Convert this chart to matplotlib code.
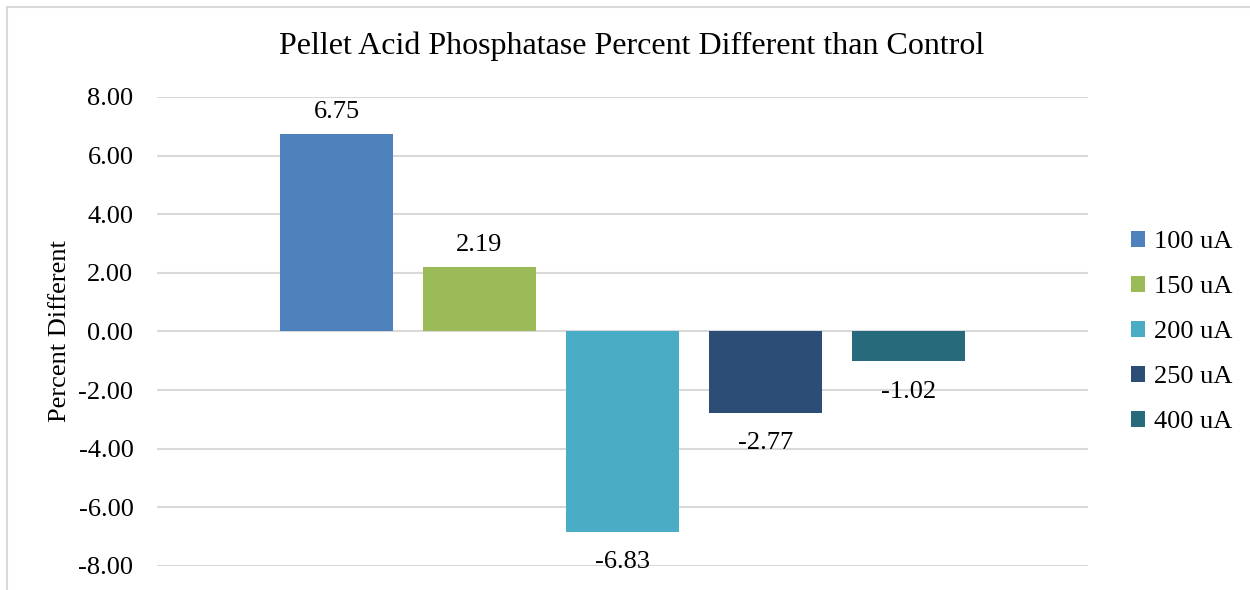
import matplotlib.pyplot as plt
from matplotlib.lines import Line2D
from matplotlib.patches import Patch

plt.rcParams['font.family'] = ['Liberation Serif', 'DejaVu Serif']

series = ['100 uA', '150 uA', '200 uA', '250 uA', '400 uA']
values = [6.75, 2.19, -6.83, -2.77, -1.02]
colors = ['#4F81BD', '#9BBB59', '#4BACC6', '#2C4D75', '#276A7C']
yticks = [-8, -6, -4, -2, 0, 2, 4, 6, 8]

fig = plt.figure(figsize=(12.5, 5.9), dpi=100)
ax = fig.add_axes([0.1256, 0.0407, 0.7448, 0.7949])

# one cluster, bars spaced evenly around the centre
pos = [i - (len(series) - 1) / 2 for i in range(len(series))]
bars = ax.bar(pos, values, width=0.79, color=colors, zorder=3)

for b, v in zip(bars, values):
    x = b.get_x() + b.get_width() / 2
    if v >= 0:
        ax.annotate(f'{v:.2f}', (x, v), xytext=(0, 8), textcoords='offset points',
                    ha='center', va='bottom', fontsize=19)
    else:
        ax.annotate(f'{v:.2f}', (x, v), xytext=(0, -14), textcoords='offset points',
                    ha='center', va='top', fontsize=19)

ax.set_xlim(-3.255, 3.255)
ax.set_ylim(-8, 8)
ax.set_yticks(yticks)
ax.set_yticklabels([f'{t:.2f}' for t in yticks], fontsize=19)
ax.set_xticks([])
ax.tick_params(axis='y', length=0, pad=17)
ax.grid(axis='y', color='#D9D9D9', linewidth=1.5, zorder=0)
for s in ax.spines.values():
    s.set_visible(False)

ax.set_ylabel('Percent Different', fontsize=19, labelpad=5)
fig.text(0.5056, 0.922, 'Pellet Acid Phosphatase Percent Different than Control',
         ha='center', va='center', fontsize=23)

handles = [Patch(facecolor=c, label=s) for c, s in zip(colors, series)]
fig.legend(handles=handles, loc='center left', bbox_to_anchor=(0.896, 0.437),
           frameon=False, fontsize=19, handlelength=0.55, handleheight=0.55,
           handletextpad=0.35, labelspacing=0.86, borderaxespad=0)

# light frame round the chart (left and top edges)
frame = dict(color='#D9D9D9', linewidth=1.5, transform=fig.transFigure)
fig.add_artist(Line2D([0.0056, 0.0056], [0, 0.988], **frame))
fig.add_artist(Line2D([0.0056, 1.0], [0.988, 0.988], **frame))

fig.savefig('out.png', dpi=100)
